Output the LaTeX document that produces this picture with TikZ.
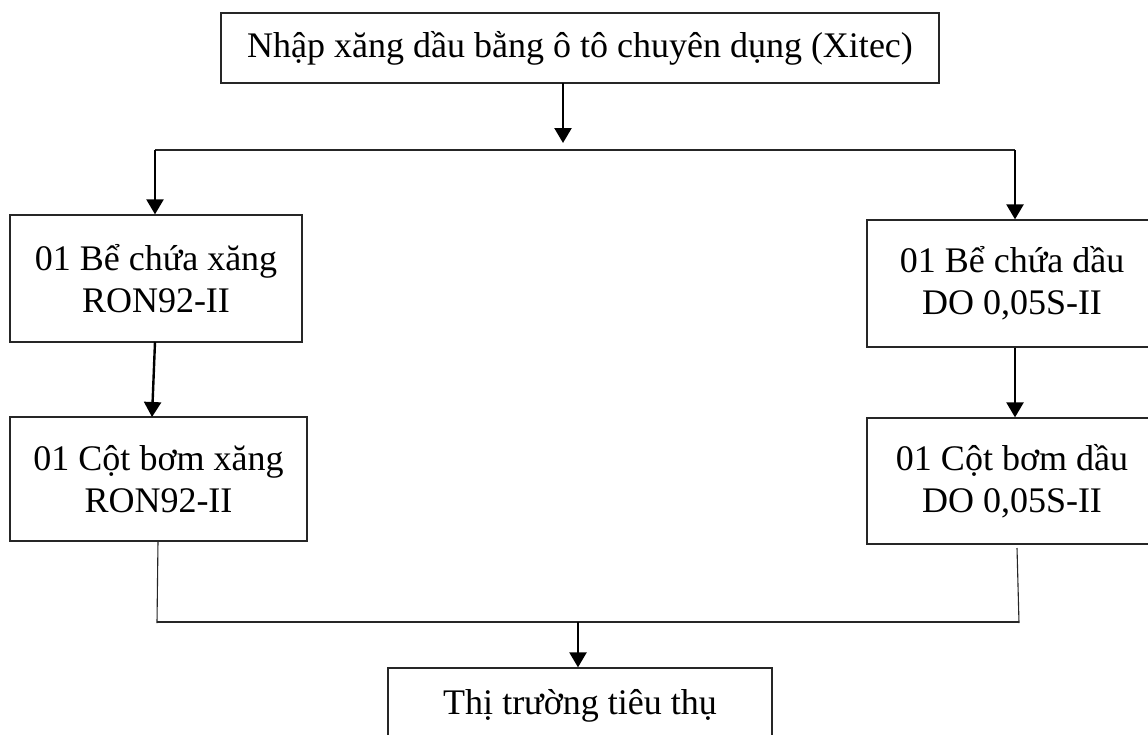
\documentclass[tikz,border=0pt]{standalone}
\usepackage{fontspec}
\setmainfont{Liberation Serif}
\usetikzlibrary{arrows.meta}
\begin{document}
\begin{tikzpicture}[x=1pt,y=-1pt,
  box/.style={draw=black!85,line width=1.3pt,rectangle,inner sep=0pt,align=center,
    font=\fontsize{36}{42}\selectfont},
  arr/.style={line width=2.4pt,-{Triangle[length=15pt,width=17pt]}},
  ln/.style={line width=1.3pt,draw=black!85}]
\useasboundingbox (0,0) rectangle (1148,734);
\clip (0,0) rectangle (1148,734);
\fill[white] (0,0) rectangle (1148,734);
\node[box,minimum width=718pt,minimum height=70pt] (top) at (580,48) {Nhập xăng dầu bằng ô tô chuyên dụng (Xitec)};
\node[box,minimum width=292pt,minimum height=127pt] (l1) at (156,278.5) {01 Bể chứa xăng\\RON92-II};
\node[box,minimum width=297pt,minimum height=124pt] (l2) at (158.5,479) {01 Cột bơm xăng\\RON92-II};
\node[box,minimum width=290pt,minimum height=127pt] (r1) at (1012,283.5) {01 Bể chứa dầu\\DO 0,05S-II};
\node[box,minimum width=290pt,minimum height=126pt] (r2) at (1012,481) {01 Cột bơm dầu\\DO 0,05S-II};
\node[box,minimum width=384pt,minimum height=76pt] (bot) at (580,706) {Thị trường tiêu thụ};
% top split
\coordinate (t0) at (563,83);
\coordinate (tj) at (563,143);
\coordinate (hl) at (155,150);
\coordinate (hr) at (1015,150);
\draw[arr] (t0) -- (tj);
\draw[ln] (hl) -- (hr);
\draw[arr] (hl) -- (hl |- l1.north);
\draw[arr] (hr) -- (hr |- r1.north);
% middle arrows
\coordinate (la) at (155,342);
\coordinate (lb) at (152,417);
\draw[arr] (la) -- (lb);
\draw[arr] (r1.south -| hr) -- (r2.north -| hr);
% bottom merge
\coordinate (m1) at (158,541);
\coordinate (m2) at (157,623);
\coordinate (m3) at (1017,548);
\coordinate (m4) at (1019,623);
\draw[ln,line width=1.1pt] (m1) -- (m2);
\draw[ln,line width=1.1pt] (m3) -- (m4);
\draw[ln] (157,622) -- (1019,622);
\coordinate (bj) at (578,622);
\draw[arr] (bj) -- (bot.north -| bj);
\end{tikzpicture}
\end{document}
